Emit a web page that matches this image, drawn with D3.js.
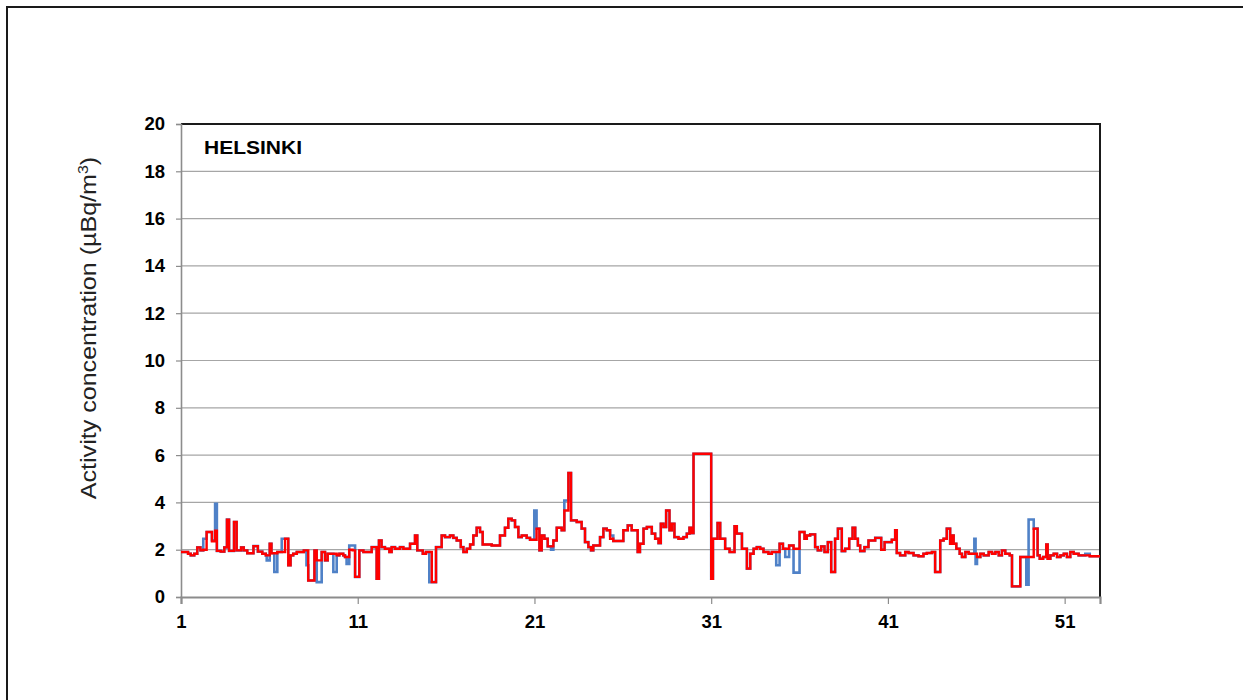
<!DOCTYPE html>
<html>
<head>
<meta charset="utf-8">
<script src="https://cdn.jsdelivr.net/npm/d3@7"></script>
<style>
  html, body { margin: 0; padding: 0; background: #fff; }
  svg { display: block; }
  text { font-family: "Liberation Sans", Arial, sans-serif; }
</style>
</head>
<body>
<svg id="chart" width="1243" height="700"></svg>
<script>
// ---- Data (week number where each sampling step starts) ----
const weekStarts = [
  1.00,1.40,1.55,1.75,1.92,2.10,2.26,2.45,2.75,2.93,3.03,3.25,3.45,3.60,3.72,4.00,4.15,4.40,4.55,4.75,
  5.10,5.35,5.60,5.80,5.85,6.02,6.12,6.28,6.45,6.70,6.89,7.07,7.20,7.35,7.55,7.95,8.10,8.20,8.55,8.68,
  8.96,9.15,9.30,9.62,9.81,9.96,10.18,10.28,10.37,10.52,10.71,10.85,11.09,11.32,11.79,12.07,12.20,12.35,12.54,12.79,
  12.92,13.11,13.39,13.58,13.96,14.24,14.37,14.68,14.86,15.05,15.19,15.43,15.75,15.94,16.22,16.41,16.60,16.83,16.98,17.17,
  17.36,17.54,17.73,17.92,18.07,18.58,19.05,19.33,19.52,19.71,19.90,20.09,20.28,20.56,20.75,20.99,21.12,21.28,21.41,21.56,
  21.75,21.94,22.07,22.26,22.54,22.69,22.92,23.07,23.39,23.67,23.86,24.05,24.20,24.33,24.71,24.90,25.09,25.28,25.46,26.03,
  26.28,26.50,26.84,26.97,27.17,27.36,27.64,27.83,28.02,28.15,28.30,28.45,28.64,28.77,28.92,29.15,29.43,29.62,29.77,29.90,
  30.00,31.00,31.10,31.36,31.51,31.79,32.04,32.32,32.45,32.74,33.02,33.21,33.40,33.58,33.77,33.96,34.24,34.43,34.68,34.87,
  35.06,35.19,35.41,35.66,36.00,36.28,36.41,36.60,36.88,37.03,37.22,37.41,37.60,37.79,38.01,38.17,38.39,38.58,38.81,39.00,
  39.15,39.30,39.43,39.67,39.90,40.28,40.62,40.81,41.22,41.41,41.50,41.69,41.98,42.17,42.45,42.73,43.01,43.20,43.49,43.67,
  43.96,44.15,44.33,44.52,44.60,44.72,44.87,45.06,45.19,45.38,45.57,45.89,45.96,46.04,46.23,46.42,46.70,46.89,47.08,47.27,
  47.45,47.64,47.89,48.02,48.49,48.83,48.96,49.25,49.47,49.59,49.78,49.96,50.04,50.19,50.38,50.57,50.76,50.95,51.13,51.32,
  51.51,51.79,52.17,52.42,53.00
];

// Red series (µBq/m³)
const redValues = [
  1.90,1.83,1.76,1.83,2.10,1.97,2.00,2.75,2.35,2.80,1.95,1.92,2.10,3.27,1.95,3.17,1.97,2.10,1.97,1.85,
  2.15,1.92,1.83,1.76,1.76,2.25,1.85,1.85,1.90,1.90,2.46,1.34,1.76,1.83,1.90,1.97,1.97,0.70,1.97,1.55,
  1.90,1.55,1.83,1.83,1.76,1.83,1.76,1.69,1.69,2.00,1.97,0.85,1.97,1.90,2.11,0.77,2.39,2.11,2.04,1.90,
  2.11,2.04,2.11,2.04,2.25,2.60,1.97,1.83,1.90,1.90,0.63,2.11,2.60,2.53,2.60,2.50,2.39,2.11,1.90,2.04,
  2.22,2.60,2.93,2.75,2.22,2.18,2.60,2.93,3.31,3.24,2.96,2.53,2.60,2.50,2.42,2.42,2.89,1.97,2.60,2.46,
  2.14,2.14,2.39,2.93,2.82,3.66,5.24,3.24,3.17,2.89,2.32,2.11,1.97,2.18,2.53,2.89,2.82,2.46,2.37,2.82,
  3.03,2.82,1.90,2.25,2.89,2.96,2.68,2.46,2.28,3.10,2.96,3.66,2.82,3.10,2.53,2.46,2.53,2.68,2.93,2.70,
  6.06,0.77,2.46,3.13,2.46,2.04,1.90,2.99,2.68,2.04,1.20,1.83,2.04,2.11,2.04,1.90,1.83,1.90,1.90,2.25,
  2.04,2.04,2.18,2.04,2.75,2.46,2.60,2.65,2.11,1.97,2.14,1.90,2.32,1.06,2.46,2.89,1.94,2.04,2.46,2.93,
  2.46,2.18,1.94,2.11,2.39,2.50,2.00,2.32,2.42,2.82,1.86,1.76,1.90,1.86,1.76,1.72,1.83,1.86,1.90,1.06,
  2.39,2.46,2.89,2.25,2.60,2.25,2.04,1.83,1.69,1.90,1.83,1.83,1.83,1.69,1.83,1.76,1.90,1.83,1.90,1.76,
  1.97,1.83,1.76,0.45,1.69,1.69,1.69,2.89,1.76,1.62,1.69,2.22,1.62,1.76,1.83,1.69,1.76,1.83,1.69,1.90,
  1.83,1.76,1.76,1.72,1.72
];

// Blue series (µBq/m³)
const blueValues = [
  1.90,1.83,1.76,1.83,2.10,1.97,2.46,2.75,2.40,3.94,1.95,1.92,2.10,3.27,1.95,3.17,1.97,2.10,1.97,1.85,
  2.15,1.92,1.83,1.76,1.55,2.25,1.85,1.06,1.90,2.46,2.46,1.34,1.76,1.83,1.90,1.97,1.34,0.70,1.97,0.63,
  1.90,1.55,1.83,1.06,1.76,1.83,1.76,1.69,1.40,2.18,2.18,0.85,1.97,1.90,2.11,0.77,2.39,2.11,2.04,1.90,
  2.11,2.04,2.11,2.04,2.25,2.60,1.97,1.83,1.90,0.63,0.63,2.11,2.60,2.53,2.60,2.50,2.39,2.11,1.90,2.04,
  2.22,2.60,2.93,2.75,2.22,2.18,2.60,2.93,3.31,3.24,2.96,2.53,2.60,2.50,2.42,3.66,2.89,1.97,2.60,2.46,
  2.14,2.00,2.39,2.93,2.82,4.08,5.24,3.24,3.17,2.89,2.32,2.11,1.97,2.18,2.53,2.89,2.82,2.60,2.37,2.82,
  3.03,2.82,1.90,2.25,2.89,2.96,2.68,2.46,2.28,3.10,2.96,3.66,2.82,3.10,2.53,2.46,2.53,2.68,2.93,2.70,
  6.06,0.77,2.46,3.13,2.46,2.04,1.90,2.99,2.68,2.04,1.20,1.83,2.04,2.11,2.04,1.90,1.83,1.90,1.34,2.25,
  2.04,1.69,2.18,1.03,2.75,2.46,2.60,2.65,2.11,1.97,2.14,1.90,2.32,1.06,2.46,2.89,1.94,2.04,2.46,2.93,
  2.46,2.18,1.94,2.11,2.39,2.50,2.00,2.32,2.42,2.82,1.86,1.76,1.90,1.86,1.76,1.72,1.83,1.86,1.90,1.06,
  2.39,2.46,2.89,2.25,2.60,2.25,2.04,1.83,1.69,1.90,1.83,2.46,1.40,1.69,1.83,1.76,1.90,1.83,1.90,1.76,
  1.97,1.83,1.76,0.45,1.69,0.52,3.28,2.89,1.76,1.62,1.69,2.22,1.62,1.76,1.83,1.69,1.76,1.83,1.69,1.90,
  1.83,1.76,1.83,1.72,1.72
];

const xTickValues = [1, 11, 21, 31, 41, 51];
const yTickValues = [0, 2, 4, 6, 8, 10, 12, 14, 16, 18, 20];
const stationName = "HELSINKI";

// ---- Layout ----
const svg = d3.select("#chart");
const plot = { left: 181, right: 1100, top: 124, bottom: 597 };

const x = d3.scaleLinear().domain([1, 53]).range([plot.left, plot.right]);
const y = d3.scaleLinear().domain([0, 20]).range([plot.bottom, plot.top]);

// Outer frame (top and left edges)
svg.append("path")
  .attr("d", "M7,700 V7 H1243")
  .attr("fill", "none")
  .attr("stroke", "#1a1a1a")
  .attr("stroke-width", 2);

// Horizontal grid lines
svg.append("g")
  .selectAll("line")
  .data(yTickValues.filter(v => v > 0 && v < 20))
  .join("line")
  .attr("x1", plot.left).attr("x2", plot.right)
  .attr("y1", d => y(d)).attr("y2", d => y(d))
  .attr("stroke", "#a6a6a6")
  .attr("stroke-width", 1.2);

// Top and right border of plot area
svg.append("path")
  .attr("d", `M${plot.left},${y(20)} H${plot.right} V${y(0)}`)
  .attr("fill", "none")
  .attr("stroke", "#1a1a1a")
  .attr("stroke-width", 2);

// Y axis
const yAxis = d3.axisLeft(y).tickValues(yTickValues).tickSize(5).tickPadding(11).tickFormat(d3.format("d"));
const gy = svg.append("g").attr("transform", `translate(${plot.left},0)`).call(yAxis);
gy.select(".domain").attr("stroke", "#8c8c8c").attr("stroke-width", 1.6);
gy.selectAll(".tick line").attr("stroke", "#8c8c8c").attr("stroke-width", 1.2);
gy.selectAll(".tick text")
  .attr("fill", "#000")
  .style("font-family", "'Liberation Sans', Arial, sans-serif")
  .style("font-size", "18.5px")
  .style("font-weight", "bold");

// X axis
const xAxis = d3.axisBottom(x).tickValues(xTickValues).tickSize(7).tickPadding(11).tickFormat(d3.format("d"));
const gx = svg.append("g").attr("transform", `translate(0,${plot.bottom})`).call(xAxis);
gx.select(".domain").attr("stroke", "#8c8c8c").attr("stroke-width", 2.2);
gx.selectAll(".tick line").attr("stroke", "#8c8c8c").attr("stroke-width", 1.2);
gx.selectAll(".tick text")
  .attr("fill", "#000")
  .style("font-family", "'Liberation Sans', Arial, sans-serif")
  .style("font-size", "18.5px")
  .style("font-weight", "bold");

// Series
const rows = weekStarts.map((w, i) => ({ w, red: redValues[i], blue: blueValues[i] }));

svg.append("defs").append("clipPath").attr("id", "plotclip")
  .append("rect")
  .attr("x", plot.left).attr("y", plot.top - 2)
  .attr("width", plot.right - plot.left).attr("height", plot.bottom - plot.top + 2);

const lineBlue = d3.line().curve(d3.curveStepAfter).x(d => x(d.w)).y(d => y(d.blue));
const lineRed = d3.line().curve(d3.curveStepAfter).x(d => x(d.w)).y(d => y(d.red));

const gl = svg.append("g").attr("clip-path", "url(#plotclip)");
gl.append("path").datum(rows)
  .attr("d", lineBlue)
  .attr("fill", "none")
  .attr("stroke", "#4f81c7")
  .attr("stroke-width", 2.6);
gl.append("path").datum(rows)
  .attr("d", lineRed)
  .attr("fill", "none")
  .attr("stroke", "#ff0000")
  .attr("stroke-width", 2.4);

// Station label
svg.append("text")
  .attr("x", 204).attr("y", 154)
  .attr("fill", "#000")
  .attr("textLength", 98)
  .attr("lengthAdjust", "spacingAndGlyphs")
  .style("font-size", "19px")
  .style("font-weight", "bold")
  .text(stationName);

// Y axis title
const yt = svg.append("text")
  .attr("transform", `translate(96,328) rotate(-90) scale(1.14,1)`)
  .attr("text-anchor", "middle")
  .attr("fill", "#222")
  .style("font-size", "22px");
yt.append("tspan").text("Activity concentration (µBq/m");
yt.append("tspan").attr("dy", -8).style("font-size", "14px").text("3");
yt.append("tspan").attr("dy", 8).text(")");
</script>
</body>
</html>
